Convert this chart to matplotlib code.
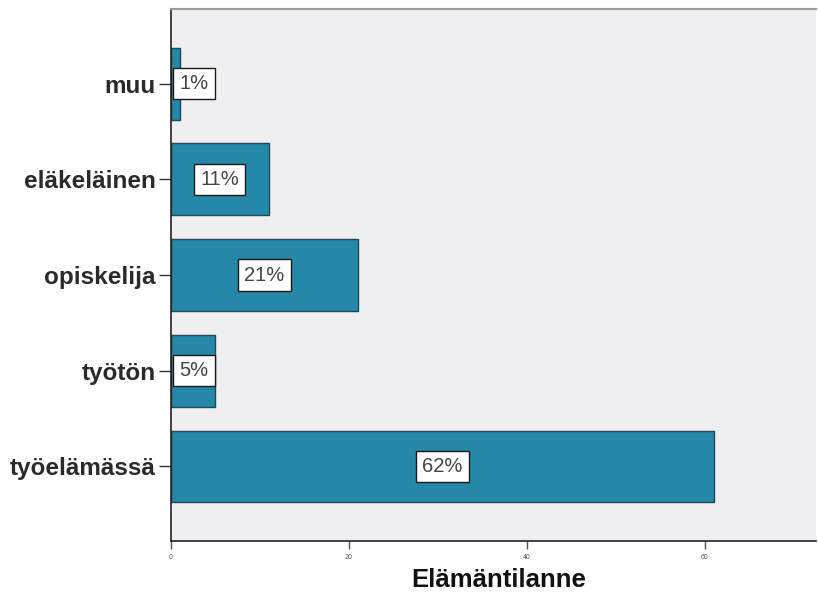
import numpy as np
import matplotlib.pyplot as plt

# Elämäntilanne - frekvenssit ja prosentit
categories = ["työelämässä", "työtön", "opiskelija", "eläkeläinen", "muu"]
counts = [61, 5, 21, 11, 1]
percent_labels = ["62%", "5%", "21%", "11%", "1%"]

plt.rcParams['font.family'] = ['Liberation Sans', 'DejaVu Sans']

fig = plt.figure(figsize=(8.18, 5.97), dpi=100)
ax = fig.add_axes([0.209, 0.0938, 0.7886, 0.891])
ax.set_facecolor("#efeef1")

y = np.arange(len(categories))
ax.barh(y, counts, height=0.75, color="#2688a8", edgecolor="#1d4a5a", linewidth=1.0)

for yi, v, lab in zip(y, counts, percent_labels):
    ax.text(max(v / 2, 2.6), yi, lab, ha="center", va="center", fontsize=14.5,
            color="#444444",
            bbox=dict(boxstyle="square,pad=0.3", facecolor="white",
                      edgecolor="#1a1a1a", linewidth=1.0))

ax.set_xlim(0, 72.5)
ax.set_ylim(-0.78, 4.78)
ax.set_yticks(y)
ax.set_yticklabels(categories, fontsize=17.5, fontweight="bold", color="#2a2a2a")
ax.set_xticks([0, 20, 40, 60])
ax.tick_params(axis="x", labelsize=5, colors="#555555", length=6, width=1, direction="out")
ax.tick_params(axis="y", length=9, width=1, color="#333333", pad=2)

ax.spines["left"].set_color("#222222")
ax.spines["left"].set_linewidth(1.2)
ax.spines["bottom"].set_color("#222222")
ax.spines["bottom"].set_linewidth(1.2)
ax.spines["top"].set_color("#999999")
ax.spines["top"].set_linewidth(1.5)
ax.spines["right"].set_visible(False)

fig.text(0.61, 0.028, "Elämäntilanne", ha="center", va="center",
         fontsize=18.5, fontweight="bold", color="#111111")

fig.savefig("out.png", dpi=100, facecolor="white")
